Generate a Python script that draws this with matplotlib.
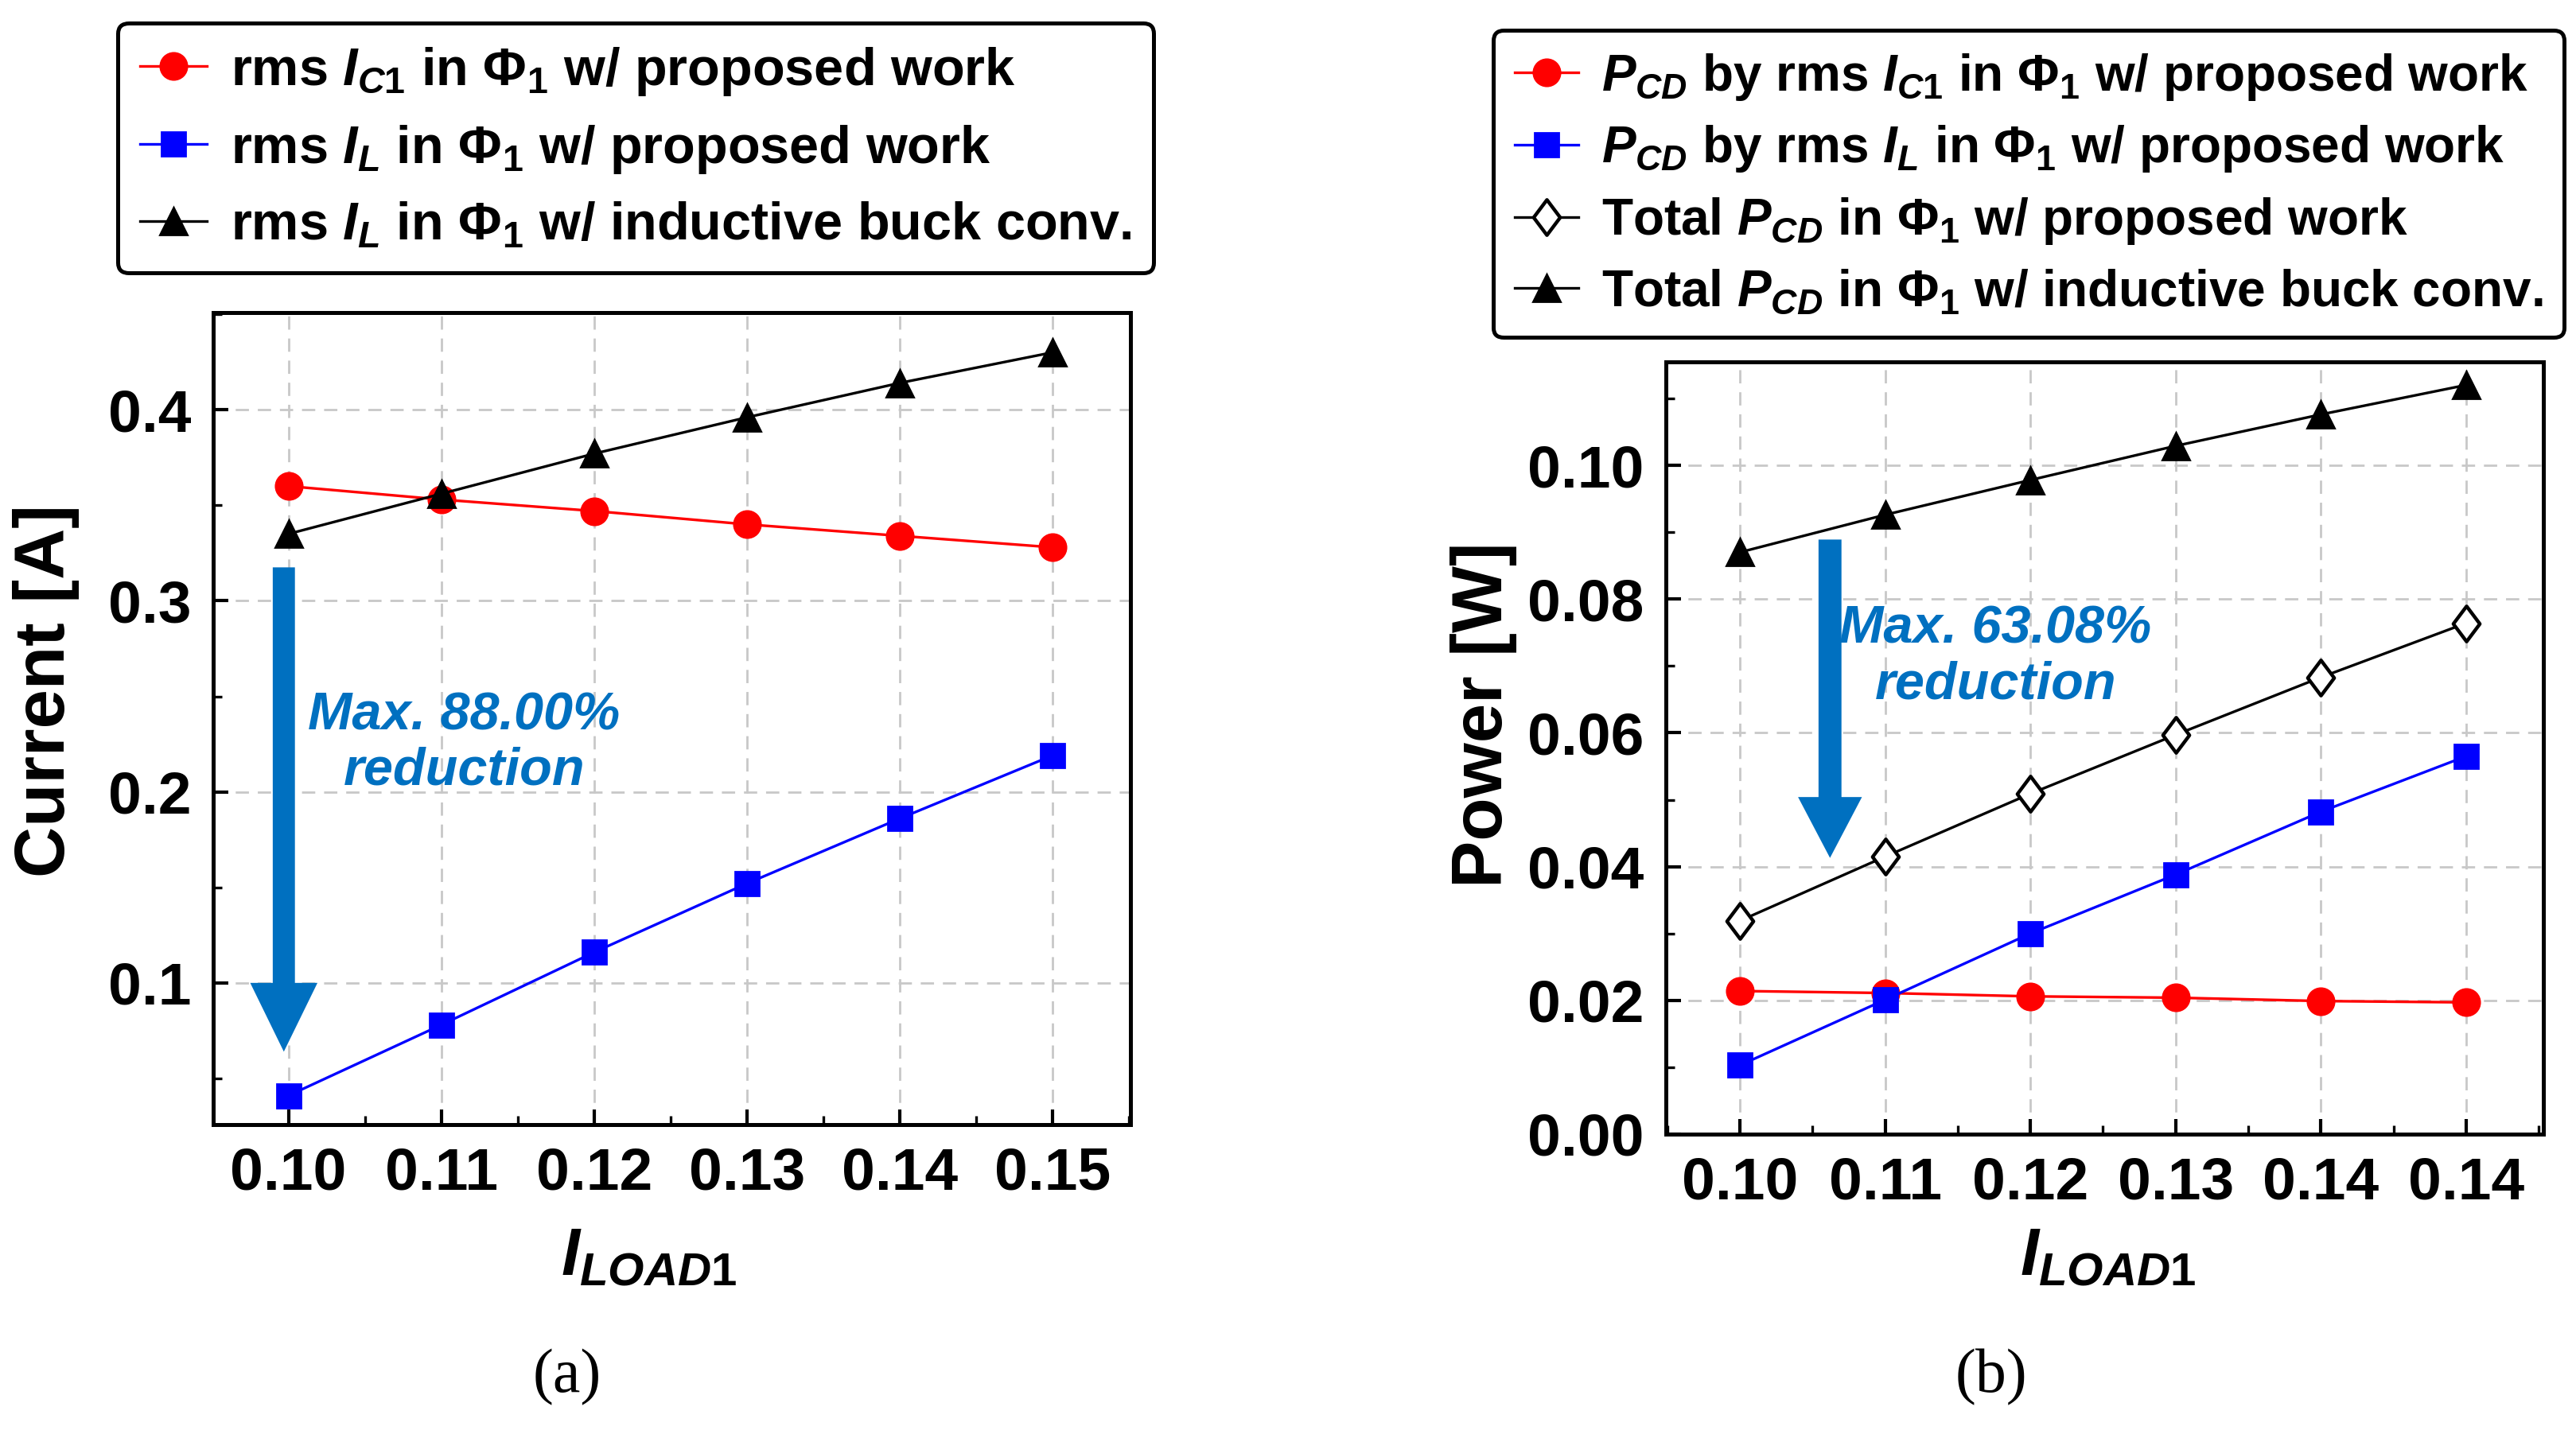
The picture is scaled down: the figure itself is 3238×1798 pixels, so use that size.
import matplotlib
matplotlib.use("Agg")
import matplotlib.pyplot as plt
import numpy as np
from matplotlib.ticker import MultipleLocator, FormatStrFormatter
from matplotlib.path import Path

plt.rcParams['font.family'] = ['Liberation Sans', 'DejaVu Sans']
plt.rcParams['font.weight'] = 'bold'
plt.rcParams['axes.labelweight'] = 'bold'
plt.rcParams['mathtext.fontset'] = 'custom'
plt.rcParams['mathtext.rm'] = 'Liberation Sans:bold'
plt.rcParams['mathtext.it'] = 'Liberation Sans:italic:bold'
plt.rcParams['mathtext.bf'] = 'Liberation Sans:bold'

# data (a): rms currents
x_load = [0.10, 0.11, 0.12, 0.13, 0.14, 0.15]
x_labels_a = ['0.10', '0.11', '0.12', '0.13', '0.14', '0.15']
ic1_prop = [0.360, 0.353, 0.347, 0.340, 0.334, 0.328]
il_prop = [0.041, 0.078, 0.116, 0.152, 0.186, 0.219]
il_buck = [0.335, 0.356, 0.377, 0.396, 0.414, 0.430]

# data (b): conduction loss
x_labels_b = ['0.10', '0.11', '0.12', '0.13', '0.14', '0.14']
pcd_ic1 = [0.0214, 0.0211, 0.0206, 0.0204, 0.0199, 0.0197]
pcd_il = [0.0103, 0.0201, 0.0300, 0.0388, 0.0482, 0.0565]
pcd_total_prop = [0.0319, 0.0415, 0.0509, 0.0597, 0.0683, 0.0764]
pcd_total_buck = [0.0870, 0.0926, 0.0978, 0.1029, 0.1076, 0.1120]

BLUE_TXT = '#0070C0'
diamond = Path([(0, 1), (0.75, 0), (0, -1), (-0.75, 0), (0, 1)],
               [Path.MOVETO, Path.LINETO, Path.LINETO, Path.LINETO, Path.CLOSEPOLY])

fig = plt.figure(figsize=(16.19, 8.99), dpi=200)
ax1 = fig.add_axes([0.0829, 0.2138, 0.3559, 0.5678])
ax2 = fig.add_axes([0.6467, 0.2069, 0.3405, 0.5402])

lw = 1.2
l1, = ax1.plot(x_load, ic1_prop, color='red', marker='o', ms=12, lw=lw,
               label=r'rms $I_{\mathit{C1}}$ in $\Phi_1$ w/ proposed work')
l2, = ax1.plot(x_load, il_prop, color='blue', marker='s', ms=10.5, lw=lw,
               label=r'rms $I_{\mathit{L}}$ in $\Phi_1$ w/ proposed work')
l3, = ax1.plot(x_load, il_buck, color='black', marker='^', ms=12.5, lw=lw,
               label=r'rms $I_{\mathit{L}}$ in $\Phi_1$ w/ inductive buck conv.')

r1, = ax2.plot(x_load, pcd_ic1, color='red', marker='o', ms=12, lw=lw,
               label=r'$P_{\mathit{CD}}$ by rms $I_{\mathit{C1}}$ in $\Phi_1$ w/ proposed work')
r2, = ax2.plot(x_load, pcd_il, color='blue', marker='s', ms=10.5, lw=lw,
               label=r'$P_{\mathit{CD}}$ by rms $I_{\mathit{L}}$ in $\Phi_1$ w/ proposed work')
r3, = ax2.plot(x_load, pcd_total_prop, color='black', marker=diamond, ms=16, lw=lw,
               mfc='white', mec='black', mew=1.6,
               label=r'Total $P_{\mathit{CD}}$ in $\Phi_1$ w/ proposed work')
r4, = ax2.plot(x_load, pcd_total_buck, color='black', marker='^', ms=12.5, lw=lw,
               label=r'Total $P_{\mathit{CD}}$ in $\Phi_1$ w/ inductive buck conv.')

ax1.set_xlim(0.0951, 0.1551)
ax1.set_ylim(0.026, 0.451)
ax2.set_xlim(0.0949, 0.1553)
ax2.set_ylim(0.0, 0.1155)

ax1.set_xticks(x_load)
ax1.set_xticklabels(x_labels_a)
ax2.set_xticks(x_load)
ax2.set_xticklabels(x_labels_b)
ax1.yaxis.set_major_locator(MultipleLocator(0.1))
ax1.yaxis.set_minor_locator(MultipleLocator(0.05))
ax1.yaxis.set_major_formatter(FormatStrFormatter('%.1f'))
ax2.yaxis.set_major_locator(MultipleLocator(0.02))
ax2.yaxis.set_minor_locator(MultipleLocator(0.01))
ax2.yaxis.set_major_formatter(FormatStrFormatter('%.2f'))

for ax in (ax1, ax2):
    ax.xaxis.set_minor_locator(MultipleLocator(0.005))
    ax.grid(True, which='major', linestyle=(0, (6, 4)), color='#c8c8c8', lw=1.0)
    ax.set_axisbelow(True)
    ax.tick_params(which='major', direction='in', length=7, width=1.5, labelsize=27, pad=10)
    ax.tick_params(which='minor', direction='in', length=4, width=1.2)
    for s in ax.spines.values():
        s.set_linewidth(1.8)

ax1.set_ylabel('Current [A]', fontsize=32, va='center', fontweight='bold')
ax1.yaxis.set_label_coords(-0.183, 0.534)
ax2.set_ylabel('Power [W]', fontsize=32, va='center', fontweight='bold')
ax2.yaxis.set_label_coords(-0.208, 0.543)
ax1.set_xlabel(r'$I_{\mathit{LOAD1}}$', fontsize=30, va='center')
ax1.xaxis.set_label_coords(0.475, -0.164)
ax2.set_xlabel(r'$I_{\mathit{LOAD1}}$', fontsize=30, va='center')
ax2.xaxis.set_label_coords(0.504, -0.160)

# reduction arrows and notes
ax1.arrow(0.0997, 0.3175, 0, 0.064 - 0.3175, width=0.00145, head_width=0.0044,
          head_length=0.036, length_includes_head=True, color=BLUE_TXT, lw=0)
ax1.text(0.1115, 0.2254, 'Max. 88.00%\nreduction', color=BLUE_TXT, fontsize=24,
         fontstyle='italic', fontweight='bold', ha='center', va='center', linespacing=1.15)
ax2.arrow(0.1062, 0.0889, 0, 0.0413 - 0.0889, width=0.00158, head_width=0.0044,
          head_length=0.0091, length_includes_head=True, color=BLUE_TXT, lw=0)
ax2.text(0.1176, 0.0713, 'Max. 63.08%\nreduction', color=BLUE_TXT, fontsize=24,
         fontstyle='italic', fontweight='bold', ha='center', va='center', linespacing=1.15)

leg_kw = dict(frameon=True, fancybox=True, edgecolor='black',
              handlelength=1.25, handletextpad=0.45, borderaxespad=0,
              borderpad=0.42, framealpha=1)
lg1 = fig.legend(handles=[l1, l2, l3], loc='upper center', fontsize=24,
                 labelspacing=0.48, bbox_to_anchor=(0.2468, 0.984), **leg_kw)
lg2 = fig.legend(handles=[r1, r2, r3, r4], loc='upper center', fontsize=23,
                 labelspacing=0.42, bbox_to_anchor=(0.7876, 0.979), **leg_kw)
for lg in (lg1, lg2):
    lg.get_frame().set_linewidth(1.8)

fig.text(0.220, 0.0368, '(a)', fontsize=28, family='Liberation Serif',
         fontweight='normal', ha='center', va='center')
fig.text(0.773, 0.0368, '(b)', fontsize=28, family='Liberation Serif',
         fontweight='normal', ha='center', va='center')

fig.savefig('out.png', dpi=200)
